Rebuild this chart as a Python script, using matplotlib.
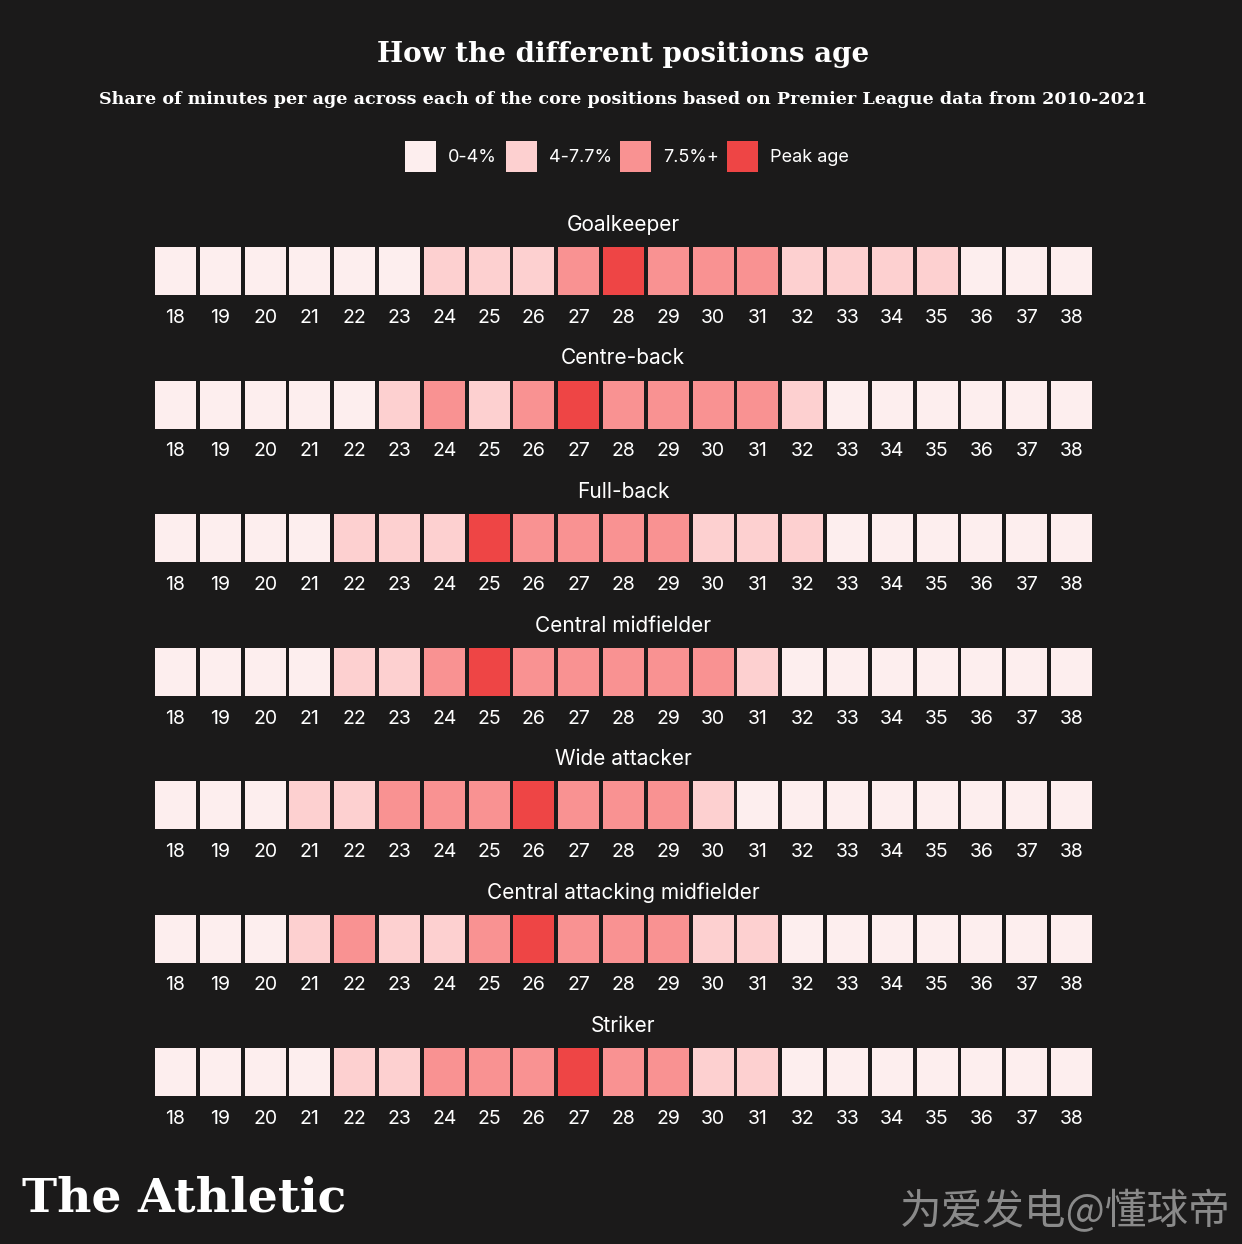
import numpy as np
import matplotlib.pyplot as plt
from matplotlib.patches import Rectangle
from matplotlib import font_manager

# data: share-of-minutes band per age (0 = 0-4%, 1 = 4-7.7%, 2 = 7.5%+, 3 = peak age)
ages = list(range(18, 39))
positions = ["Goalkeeper", "Centre-back", "Full-back", "Central midfielder",
             "Wide attacker", "Central attacking midfielder", "Striker"]
goalkeeper = [0, 0, 0, 0, 0, 0, 1, 1, 1, 2, 3, 2, 2, 2, 1, 1, 1, 1, 0, 0, 0]
centre_back = [0, 0, 0, 0, 0, 1, 2, 1, 2, 3, 2, 2, 2, 2, 1, 0, 0, 0, 0, 0, 0]
full_back = [0, 0, 0, 0, 1, 1, 1, 3, 2, 2, 2, 2, 1, 1, 1, 0, 0, 0, 0, 0, 0]
central_mid = [0, 0, 0, 0, 1, 1, 2, 3, 2, 2, 2, 2, 2, 1, 0, 0, 0, 0, 0, 0, 0]
wide_attacker = [0, 0, 0, 1, 1, 2, 2, 2, 3, 2, 2, 2, 1, 0, 0, 0, 0, 0, 0, 0, 0]
attacking_mid = [0, 0, 0, 1, 2, 1, 1, 2, 3, 2, 2, 2, 1, 1, 0, 0, 0, 0, 0, 0, 0]
striker = [0, 0, 0, 0, 1, 1, 2, 2, 2, 3, 2, 2, 1, 1, 0, 0, 0, 0, 0, 0, 0]
rows = [goalkeeper, centre_back, full_back, central_mid, wide_attacker, attacking_mid, striker]
legend_labels = ["0-4%", "4-7.7%", "7.5%+", "Peak age"]

colors = ["#fdeeee", "#fdd0d0", "#f99292", "#ee4545"]
bg = "#1b1a1a"

# a condensed slab-ish serif if there is one
names = {f.name for f in font_manager.fontManager.ttflist}
serif = "DejaVu Serif Condensed" if "DejaVu Serif Condensed" in names else "DejaVu Serif"
cond = serif != "DejaVu Serif"
sans = "Inter"

fig = plt.figure(figsize=(12.42, 12.44), dpi=100, facecolor=bg)
ax = fig.add_axes([0, 0, 1, 1])
ax.set_xlim(0, 1242)
ax.set_ylim(1244, 0)
ax.axis("off")
ax.set_facecolor(bg)

# titles
ax.text(623, 54, "How the different positions age", ha="center", va="center",
        color="white", fontsize=22 if cond else 20, fontweight="bold", family=serif)
ax.text(623, 100, "Share of minutes per age across each of the core positions based on Premier League data from 2010-2021",
        ha="center", va="center", color="white", fontsize=14 if cond else 12.6,
        fontweight="bold", family=serif)

# legend
leg_x = [405, 506, 620, 727]
for i, lab in enumerate(legend_labels):
    ax.add_patch(Rectangle((leg_x[i], 141), 31, 31, facecolor=colors[i], edgecolor="none"))
    ax.text(leg_x[i] + 43, 158, lab, ha="left", va="center", color="white",
            fontsize=13, family=sans)

# grid of cells
x0, pitch, cw, ch = 155, 44.8, 41, 48
y_top0, row_pitch = 247, 133.5
for r, (name, vals) in enumerate(zip(positions, rows)):
    yt = y_top0 + r * row_pitch
    ax.text(623, yt - 22, name, ha="center", va="center", color="white",
            fontsize=15, family=sans)
    for j, (age, v) in enumerate(zip(ages, vals)):
        xl = x0 + j * pitch
        ax.add_patch(Rectangle((xl, yt), cw, ch, facecolor=colors[v], edgecolor="none"))
        ax.text(xl + cw / 2, yt + ch + 23, str(age), ha="center", va="center",
                color="white", fontsize=14, family=sans)

# footer
ax.text(22, 1199, "The Athletic", ha="left", va="center", color="white",
        fontsize=40 if cond else 34, fontweight="bold", family=serif)
ax.text(1230, 1212, "为爱发电@懂球帝", ha="right", va="center", color="#8a8a8a",
        fontsize=30, family=["Noto Sans CJK SC", "DejaVu Sans"])

fig.savefig("out.png", dpi=100, facecolor=bg)
